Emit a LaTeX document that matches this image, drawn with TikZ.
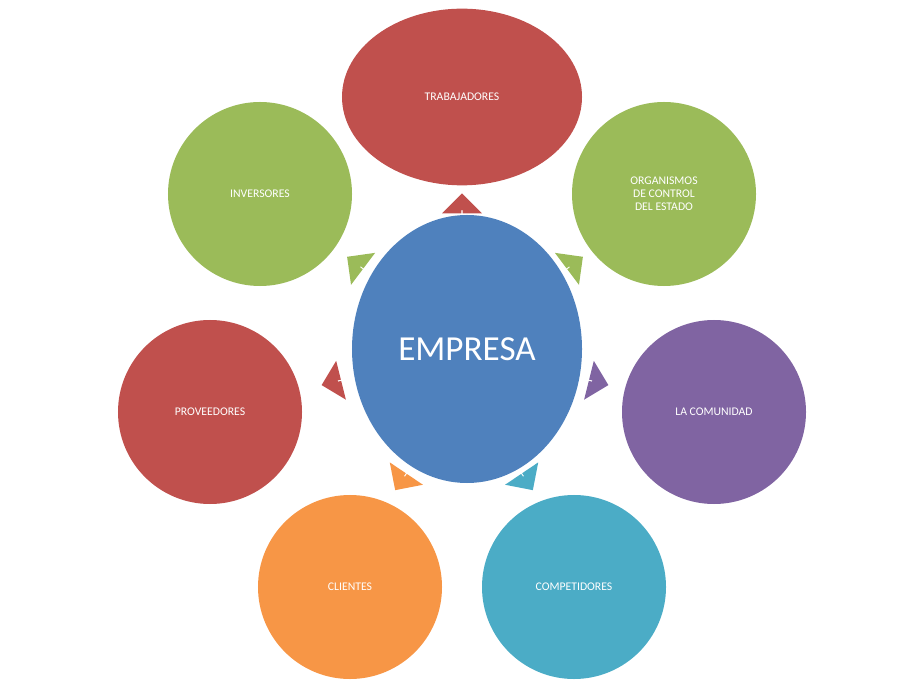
\documentclass[tikz,border=0pt]{standalone}
\usepackage{fontspec}
\setmainfont{Carlito}
\usetikzlibrary{shapes.geometric,shapes.arrows}
\definecolor{rojo}{HTML}{C0504D}
\definecolor{verde}{HTML}{9BBB59}
\definecolor{azul}{HTML}{4F81BD}
\definecolor{morado}{HTML}{8064A2}
\definecolor{naranja}{HTML}{F79646}
\definecolor{turquesa}{HTML}{4BACC6}
\tikzset{
  grupo/.style={circle, fill=#1, minimum size=5.52cm, inner sep=0pt, text=white, font=\fontsize{10}{11}\selectfont, align=center},
  flecha/.style={single arrow, fill=#1, minimum width=1.2cm, minimum height=0.5cm, single arrow head extend=0.22cm, inner sep=0pt}
}
\begin{document}
\begin{tikzpicture}[x=0.03cm,y=-0.03cm]
\useasboundingbox (0,0) rectangle (924,685);
\node[ellipse, fill=azul, minimum width=6.9cm, minimum height=8.04cm, text=white, font=\fontsize{30}{32}\selectfont] (empresa) at (467,349) {EMPRESA};
\node[ellipse, fill=rojo, minimum width=7.2cm, minimum height=5.3cm, text=white, font=\fontsize{10}{11}\selectfont] (trab) at (462,97) {TRABAJADORES};
\node[grupo=verde] (inv) at (260,194) {INVERSORES};
\node[grupo=verde] (org) at (664,194) {ORGANISMOS\\DE CONTROL\\DEL ESTADO};
\node[grupo=rojo] (prov) at (210,412) {PROVEEDORES};
\node[grupo=morado] (com) at (714,412) {LA COMUNIDAD};
\node[grupo=naranja] (cli) at (350,587) {CLIENTES};
\node[grupo=turquesa] (comp) at (574,587) {COMPETIDORES};
% flechas hacia afuera
\node[flecha=rojo, rotate=90] (f1) at (462,202) {};
\node[flecha=verde, rotate=143] (f2) at (354,262) {};
\node[flecha=verde, rotate=37] (f3) at (576,262) {};
\node[flecha=rojo, rotate=194] (f4) at (330,383) {};
\node[flecha=morado, rotate=-14] (f5) at (600,383) {};
\node[flecha=naranja, rotate=236] (f6) at (400,483) {};
\node[flecha=turquesa, rotate=304] (f7) at (528,483) {};
\end{tikzpicture}
\end{document}
